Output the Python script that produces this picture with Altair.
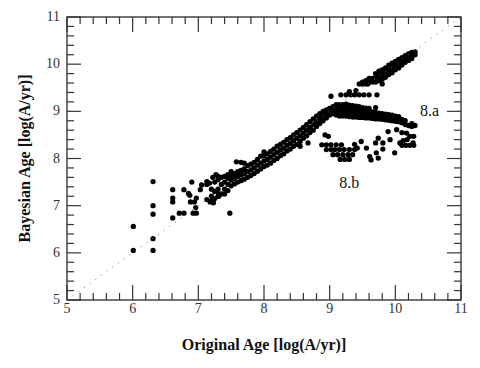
import altair as alt
import pandas as pd

# ---- data (log ages) ----
# scattered points at young ages and isolated outliers
sparse_pts = [
    (6.01, 6.56), (6.01, 6.05), (6.31, 7.51), (6.31, 7.00), (6.31, 6.82), (6.31, 6.30), (6.31, 6.05),
    (6.61, 7.34), (6.61, 7.16), (6.61, 7.08), (6.61, 6.74), (6.71, 6.84), (6.78, 6.84), (6.78, 7.34),
    (6.85, 7.26), (6.90, 7.50), (6.87, 7.22), (6.88, 7.08), (6.94, 7.08), (6.92, 6.84), (6.97, 6.84),
    (6.96, 6.96), (6.97, 7.16), (7.03, 7.34), (7.05, 7.44), (7.13, 7.51), (7.13, 7.13), (7.18, 7.08),
    (7.23, 7.06), (7.13, 7.45), (7.17, 7.48), (7.48, 6.84), (7.58, 7.93), (7.70, 7.90), (7.28, 7.30),
    (7.31, 7.20), (8.55, 8.26), (8.67, 8.33), (7.22, 7.60), (7.27, 7.66), (7.40, 7.25), (7.45, 7.32),
]

# main diagonal band (original age, list of bayesian ages)
band_cols = [
    (7.20, [7.10, 7.20, 7.35]), (7.25, [7.15, 7.30, 7.50]), (7.30, [7.20, 7.35, 7.55, 7.62]),
    (7.35, [7.25, 7.45, 7.60]), (7.40, [7.35, 7.50, 7.62]), (7.45, [7.45, 7.58, 7.66]),
    (7.50, [7.42, 7.54, 7.64, 7.72]), (7.55, [7.46, 7.58, 7.68]), (7.60, [7.50, 7.62, 7.72]),
    (7.65, [7.53, 7.65, 7.75, 7.92]), (7.70, [7.56, 7.68, 7.78]), (7.75, [7.60, 7.72, 7.85]),
    (7.80, [7.64, 7.76, 7.88]), (7.85, [7.68, 7.80, 7.92]), (7.90, [7.73, 7.86, 7.98]),
    (7.95, [7.78, 7.90, 8.05]), (8.00, [7.83, 7.95, 8.06, 8.14]), (8.05, [7.86, 7.98, 8.10]),
    (8.10, [7.90, 8.03, 8.15]), (8.15, [7.96, 8.08, 8.20]), (8.20, [8.00, 8.13, 8.26]),
    (8.25, [8.06, 8.18, 8.30]), (8.30, [8.10, 8.22, 8.34]), (8.35, [8.16, 8.28, 8.40]),
    (8.40, [8.20, 8.32, 8.44]), (8.45, [8.26, 8.38, 8.50]), (8.50, [8.30, 8.43, 8.55]),
    (8.55, [8.36, 8.48, 8.60]), (8.60, [8.43, 8.54, 8.66]), (8.65, [8.48, 8.60, 8.72]),
    (8.70, [8.55, 8.66, 8.78]), (8.75, [8.60, 8.72, 8.84]), (8.80, [8.68, 8.78, 8.90]),
    (8.85, [8.74, 8.85, 8.95]), (8.90, [8.80, 8.90, 9.00]), (8.95, [8.86, 8.95, 9.03]),
    (9.00, [8.92, 9.00, 9.06]),
]

# branch 8.a (flat near 9)
branch_a_cols = [
    (9.05, [8.95, 9.03, 9.10]), (9.10, [8.92, 9.00, 9.08, 9.14]), (9.15, [8.90, 8.98, 9.06, 9.14]),
    (9.20, [8.90, 8.98, 9.06, 9.14]), (9.25, [8.90, 8.98, 9.06, 9.15]), (9.30, [8.89, 8.97, 9.05, 9.13]),
    (9.35, [8.88, 8.96, 9.04, 9.12]), (9.40, [8.88, 8.96, 9.04, 9.11]), (9.45, [8.87, 8.95, 9.03, 9.10]),
    (9.50, [8.87, 8.95, 9.02, 9.08]), (9.55, [8.86, 8.94, 9.01, 9.07]), (9.60, [8.86, 8.93, 9.00, 9.06]),
    (9.65, [8.85, 8.92, 8.99]), (9.70, [8.84, 8.91, 8.98, 9.08]), (9.75, [8.84, 8.90, 8.96]),
    (9.80, [8.83, 8.89, 8.95]), (9.85, [8.82, 8.88, 8.94]), (9.90, [8.81, 8.87, 8.93]),
    (9.95, [8.80, 8.86, 8.92]), (10.00, [8.79, 8.85, 8.90]), (10.05, [8.78, 8.84, 8.89]),
    (10.10, [8.76, 8.83]), (10.15, [8.72, 8.80]), (10.20, [8.70]), (10.25, [8.68, 8.74]),
    (10.30, [8.70]),
]

# upper branch following the one-to-one line, with its rows near 9.35 and 9.6
upper_cols = [
    (9.50, [9.58, 9.62]), (9.55, [9.58, 9.65]), (9.60, [9.62, 9.70]), (9.65, [9.62, 9.70]),
    (9.70, [9.62, 9.72, 9.80]), (9.75, [9.65, 9.75, 9.85]), (9.80, [9.68, 9.78, 9.88]),
    (9.85, [9.72, 9.82, 9.92]), (9.90, [9.78, 9.88, 9.98]), (9.95, [9.82, 9.92, 10.02]),
    (10.00, [9.88, 9.98, 10.06]), (10.05, [9.92, 10.02, 10.10]), (10.10, [9.98, 10.06, 10.14]),
    (10.15, [10.04, 10.12, 10.18]), (10.20, [10.08, 10.15, 10.22]), (10.25, [10.12, 10.20, 10.25]),
    (10.30, [10.20, 10.26]),
]
upper_rows = [
    (9.45, 9.58), (9.58, 9.58), (9.80, 9.58),
    (9.02, 9.32), (9.17, 9.35), (9.25, 9.35), (9.32, 9.35), (9.38, 9.35), (9.45, 9.35),
    (9.52, 9.35), (9.60, 9.35), (9.72, 9.35), (9.30, 9.42), (9.40, 9.44),
]

# branch 8.b (lower clump)
branch_b_pts = [
    (8.93, 8.50), (8.98, 8.47),
    (8.88, 8.29), (8.95, 8.29), (9.02, 8.29), (9.10, 8.29), (9.18, 8.29),
    (8.95, 8.19), (9.02, 8.19), (9.08, 8.19), (9.15, 8.19), (9.22, 8.19), (9.30, 8.19), (9.38, 8.19),
    (9.05, 8.08), (9.12, 8.08), (9.20, 8.08), (9.28, 8.08), (9.35, 8.08),
    (9.16, 7.98), (9.23, 7.98), (9.30, 7.98),
    (9.42, 8.22), (9.38, 8.30), (9.48, 8.36), (9.56, 8.22), (9.61, 8.04), (9.63, 7.97),
    (9.71, 8.12), (9.74, 8.01), (9.74, 8.43), (9.70, 8.33), (9.81, 8.33), (9.81, 8.20),
    (9.89, 8.57), (9.92, 8.40), (9.99, 8.12), (10.02, 8.61), (10.10, 8.55), (10.17, 8.54),
    (10.07, 8.33), (10.12, 8.38), (10.18, 8.40), (10.27, 8.33),
    (10.10, 8.28), (10.16, 8.28), (10.22, 8.28), (10.28, 8.28), (10.22, 8.47), (10.28, 8.47),
]

one_to_one = [5, 11]
major_ticks = [5, 6, 7, 8, 9, 10, 11]
tick_labels = ["5", "6", "7", "8", "9", "10", "11"]
minor_ticks = [5.2, 5.4, 5.6, 5.8, 6.2, 6.4, 6.6, 6.8, 7.2, 7.4, 7.6, 7.8,
               8.2, 8.4, 8.6, 8.8, 9.2, 9.4, 9.6, 9.8, 10.2, 10.4, 10.6, 10.8]
labels = [("8.a", 10.52, 9.0), ("8.b", 9.30, 7.48)]
x_title = "Original Age [log(A/yr)]"
y_title = "Bayesian Age [log(A/yr)]"

# ---- build tables ----
rows = list(sparse_pts) + list(upper_rows) + list(branch_b_pts)
for cols in (band_cols, branch_a_cols, upper_cols):
    for xv, ys in cols:
        for yv in ys:
            rows.append((xv, yv))
pts = pd.DataFrame(rows, columns=["orig", "bayes"])

W, H = 394, 283
FONT = "Liberation Serif"
LO, HI = 5, 11
dom = [LO, HI]
xs = alt.Scale(domain=dom, nice=False, zero=False)
ys_ = alt.Scale(domain=dom, nice=False, zero=False)

# inward tick segments on all four sides, drawn as short two-point lines
# (lengths in pixels, converted to data units through the plot size)
px_x = (HI - LO) / W
px_y = (HI - LO) / H
seg_rows = []
sid = 0
for vals, L in ((major_ticks, 15), (minor_ticks, 7)):
    d = L * px_y
    for v in vals:
        for a, b in ((LO, LO + d), (HI - d, HI)):
            seg_rows.append((sid, v, a))
            seg_rows.append((sid, v, b))
            sid += 1
for vals, L in ((major_ticks, 14), (minor_ticks, 7)):
    d = L * px_x
    for v in vals:
        for a, b in ((LO, LO + d), (HI - d, HI)):
            seg_rows.append((sid, a, v))
            seg_rows.append((sid, b, v))
            sid += 1
seg_df = pd.DataFrame(seg_rows, columns=["sid", "sx", "sy"])

scatter = alt.Chart(pts).mark_circle(size=28, color="black", opacity=1).encode(
    x=alt.X("orig:Q", scale=xs, axis=None),
    y=alt.Y("bayes:Q", scale=ys_, axis=None),
)

diag = alt.Chart(pd.DataFrame({"orig": one_to_one, "bayes": one_to_one})).mark_line(
    color="#666", strokeWidth=1, strokeDash=[1, 6]
).encode(x=alt.X("orig:Q", scale=xs, axis=None), y=alt.Y("bayes:Q", scale=ys_, axis=None))

ticks = alt.Chart(seg_df).mark_line(color="#333", strokeWidth=1.2).encode(
    x=alt.X("sx:Q", scale=xs, axis=None),
    y=alt.Y("sy:Q", scale=ys_, axis=None),
    detail="sid:N",
)

# tick labels drawn as text at the tick values
lab_df = pd.DataFrame({"v": major_ticks, "t": tick_labels})
xlab = alt.Chart(lab_df).mark_text(font=FONT, fontSize=14, color="#333", align="center",
                                   baseline="middle").encode(
    x=alt.X("v:Q", scale=xs, axis=None), y=alt.value(H + 9), text="t:N")
ylab = alt.Chart(lab_df).mark_text(font=FONT, fontSize=14, color="#333", align="right",
                                   baseline="middle").encode(
    y=alt.Y("v:Q", scale=ys_, axis=None), x=alt.value(-7), text="t:N")

xt = alt.Chart(pd.DataFrame({"t": [x_title]})).mark_text(
    font=FONT, fontSize=16, fontWeight="bold", color="#111", align="center", baseline="middle"
).encode(x=alt.value(W / 2), y=alt.value(H + 45), text="t:N")
yt = alt.Chart(pd.DataFrame({"t": [y_title]})).mark_text(
    font=FONT, fontSize=16, fontWeight="bold", color="#111", align="center", baseline="middle",
    angle=270
).encode(x=alt.value(-42), y=alt.value(H / 2), text="t:N")

txt = alt.Chart(pd.DataFrame(labels, columns=["t", "orig", "bayes"])).mark_text(
    font=FONT, fontSize=16, color="#111", align="center", baseline="middle"
).encode(x=alt.X("orig:Q", scale=xs, axis=None), y=alt.Y("bayes:Q", scale=ys_, axis=None), text="t:N")

chart = alt.layer(scatter, diag, ticks, xlab, ylab, xt, yt, txt).properties(
    width=W, height=H,
    autosize=alt.AutoSizeParams(type="none"),
    padding={"left": 59, "top": 9, "right": 10, "bottom": 62},
    background="white",
).configure_view(stroke="#444", strokeWidth=1.5)

chart.save("out.html", embed_options={"renderer": "svg", "actions": False})
